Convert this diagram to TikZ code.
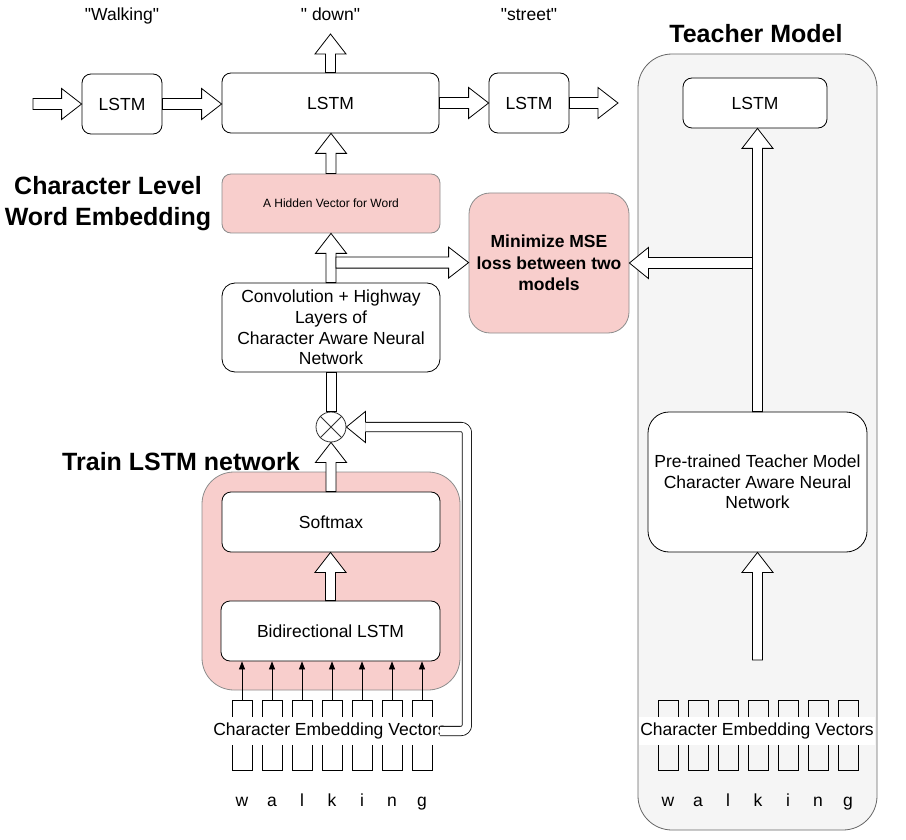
\documentclass[tikz,border=0pt]{standalone}
\usepackage{fontspec}
\setmainfont{Liberation Sans}[Ligatures=TeXOff]
\usetikzlibrary{calc,arrows.meta}
\definecolor{pinkf}{HTML}{F8CECC}
\definecolor{greyf}{HTML}{F5F5F5}
\definecolor{greyd}{HTML}{666666}
\newcommand\sq{\char34\relax}
\tikzset{
  box/.style={draw=black, line width=0.8pt, fill=white, rounded corners=9pt, inner sep=0pt, align=center, font=\fontsize{17.5}{20.7}\selectfont},
  pinkbox/.style={box, fill=pinkf, draw=black!45},
  blk/.style={draw=black, line width=0.8pt, fill=white, line join=miter},
  ttl/.style={font=\bfseries\fontsize{25}{31}\selectfont, align=center, inner sep=0pt},
  lbl/.style={font=\fontsize{17.5}{20.7}\selectfont, inner sep=0pt},
  cbox/.style={draw=black, line width=0.8pt, minimum width=20pt, minimum height=70pt, inner sep=0pt},
  cev/.style={lbl, fill=white, inner xsep=1pt, inner ysep=5.5pt},
  smallarr/.style={-{Triangle[length=8pt,width=6pt]}, line width=0.8pt}
}
\newcommand\ArrUp[2]{\draw[blk] let \p1=(#1), \p2=(#2) in
  (\x1-5pt,\y1) -- (\x1-5pt,\y2-20pt) -- (\x1-15.5pt,\y2-20pt) -- (\x1,\y2) -- (\x1+15.5pt,\y2-20pt) -- (\x1+5pt,\y2-20pt) -- (\x1+5pt,\y1) -- cycle;}
\newcommand\ArrRight[2]{\draw[blk] let \p1=(#1), \p2=(#2) in
  (\x1,\y1-5.5pt) -- (\x2-20pt,\y1-5.5pt) -- (\x2-20pt,\y1-15.5pt) -- (\x2,\y1) -- (\x2-20pt,\y1+15.5pt) -- (\x2-20pt,\y1+5.5pt) -- (\x1,\y1+5.5pt) -- cycle;}
\newcommand\ArrLeft[2]{\draw[blk] let \p1=(#1), \p2=(#2) in
  (\x1,\y1-5.5pt) -- (\x2+19pt,\y1-5.5pt) -- (\x2+19pt,\y1-15.5pt) -- (\x2,\y1) -- (\x2+19pt,\y1+15.5pt) -- (\x2+19pt,\y1+5.5pt) -- (\x1,\y1+5.5pt) -- cycle;}
\begin{document}
\begin{tikzpicture}[x=1pt,y=-1pt]
\useasboundingbox (0,0) rectangle (906,840);
% containers
\node[box, fill=greyf, draw=greyd, rounded corners=34pt, minimum width=239pt, minimum height=776pt] (teach) at (757.5,442) {};
\node[pinkbox, rounded corners=32pt, minimum width=258pt, minimum height=218pt] (train) at (331,581) {};
% titles
\node[ttl] (tteach) at (756,34) {Teacher Model};
\node[ttl] (tchar) at (108,204) {Character Level\\Word Embedding};
\node[ttl] (ttrain) at (181,462) {Train LSTM network};
% top labels
\node[lbl, anchor=base] (w1) at (122,21) {\sq Walking\sq};
\node[lbl, anchor=base] (w2) at (330.5,21) {\sq\ down\sq};
\node[lbl, anchor=base] (w3) at (529,21) {\sq street\sq};
% boxes
\node[box, minimum width=80pt, minimum height=60pt] (lstm1) at (122,104) {LSTM};
\node[box, minimum width=217pt, minimum height=60pt] (lstm2) at (330.5,103) {LSTM};
\node[box, minimum width=80pt, minimum height=60pt] (lstm3) at (529,103) {LSTM};
\node[box, minimum width=144pt, minimum height=50pt] (tlstm) at (755,103) {LSTM};
\node[pinkbox, minimum width=218pt, minimum height=59pt, font=\fontsize{12}{14}\selectfont] (hid) at (331,203.5) {A Hidden Vector for Word};
\node[box, rounded corners=13pt, minimum width=218pt, minimum height=89pt] (conv) at (331,327.5) {Convolution + Highway\\Layers of\\Character Aware Neural\\Network};
\node[pinkbox, rounded corners=21pt, minimum width=160pt, minimum height=140pt, font=\bfseries\fontsize{17.5}{21.5}\selectfont] (mse) at (549,263) {Minimize MSE\\loss between two\\models};
\node[box, rounded corners=21pt, minimum width=219pt, minimum height=140pt] (pre) at (757.5,482) {Pre-trained Teacher Model\\Character Aware Neural\\Network};
\node[box, minimum width=218pt, minimum height=60pt] (soft) at (331,522) {Softmax};
\node[box, minimum width=219pt, minimum height=60pt] (bil) at (330.5,631) {Bidirectional LSTM};
\node[circle, draw=black!80, line width=0.8pt, fill=white, minimum size=30pt, inner sep=0pt] (circ) at (331,427) {};
\draw[line width=0.8pt, black!80] (circ.north west) -- (circ.south east) (circ.north east) -- (circ.south west);
% character boxes
\foreach \i in {1,...,7}{
  \node[cbox] (s\i) at ({212+30*\i},735) {};
  \node[cbox] (t\i) at ({638+30*\i},735) {};
  \draw[smallarr] (s\i.north) -- (s\i.north |- bil.south);
}
\foreach \ch [count=\i] in {w,a,l,k,i,n,g}{
  \node[lbl, anchor=base] (sl\i) at ({212+30*\i},806) {\ch};
  \node[lbl, anchor=base] (tl\i) at ({638+30*\i},806) {\ch};
}
\node[cev] (scev) at (330,731) {Character Embedding Vectors};
\node[cev] (tcev) at (757,731) {Character Embedding Vectors};
% free ends
\coordinate (in) at (33,104);
\coordinate (out) at (330.5,34);
\coordinate (rout) at (618,103);
\coordinate (tb) at (757.5,660);
\coordinate (br) at ($(conv.north)+(5,-20)$);
\coordinate (tj) at ($(pre.north |- mse.east)+(-5,0)$);
% block arrows
\ArrRight{in}{lstm1.west}
\ArrRight{lstm1.east}{lstm2.west}
\ArrRight{lstm2.east}{lstm3.west}
\ArrRight{lstm3.east}{rout}
\ArrUp{lstm2.north}{out}
\ArrUp{hid.north}{lstm2.south}
\ArrUp{conv.north}{hid.south}
\ArrRight{br}{mse.west}
\draw[blk] let \p1=(circ.north), \p2=(conv.south) in (\x1-5pt,\y1) rectangle (\x1+5pt,\y2);
\ArrUp{soft.north}{circ.south}
\ArrUp{bil.north}{soft.south}
\ArrUp{pre.north}{tlstm.south}
\ArrLeft{tj}{mse.east}
\ArrUp{tb}{pre.south}
% feedback arrow
\coordinate (fbh) at ($(circ.east)+(19,0)$);
\draw[line width=0.8pt, double=white, double distance=8.5pt, rounded corners=6pt] ($(scev.east)+(-8,0)$) -- ++(27,0) |- (fbh);
\draw[blk] ($(fbh)+(0,-4.6)$) -- ($(fbh)+(0,-15.5)$) -- (circ.east) -- ($(fbh)+(0,15.5)$) -- ($(fbh)+(0,4.6)$);
\end{tikzpicture}
\end{document}
